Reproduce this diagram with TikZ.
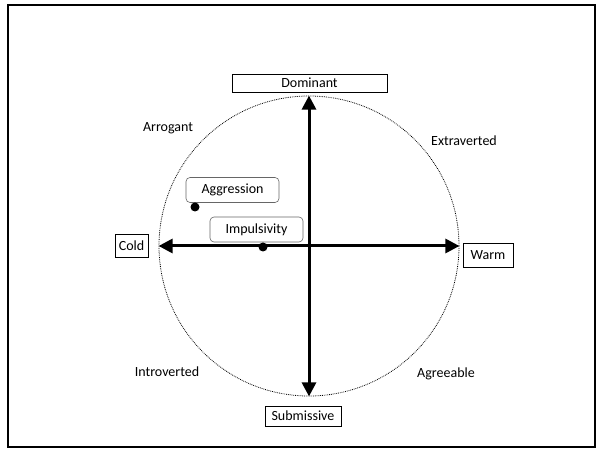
\documentclass[tikz,border=0pt]{standalone}
\usepackage{fontspec}
\setmainfont{Carlito}
\usetikzlibrary{arrows.meta}
\begin{document}
\begin{tikzpicture}[x=1pt,y=-1pt,>={Triangle[length=14pt,width=14pt]}]
            \tikzstyle{every node} = [font=\fontsize{14}{16}\selectfont,inner sep=0pt];
            \tikzstyle{pole} = [draw=black,line width=0.9pt,fill=white];
            \tikzstyle{trait} = [draw=black!60,rounded corners=4pt,line width=0.6pt,minimum width=93pt,minimum height=25pt];
            \tikzstyle{score} = [circle,fill=black,minimum size=9pt];
            \tikzstyle{axis} = [<->,line width=3pt];
            \useasboundingbox (0,0) rectangle (598,449);
            \draw[line width=1.8pt] (8,5) rectangle (595,447);
            \node[circle,draw,densely dotted,line width=0.8pt,minimum size=300pt] (wheel) at (309,246) {};
            \draw[axis] (wheel.north) -- (wheel.south);
            \draw[axis] (wheel.west) -- (wheel.east);
            \node[pole,minimum width=155pt,minimum height=18pt] (dom) at (309.5,83) {Dominant};
            \node[pole,minimum width=76pt,minimum height=20pt] (sub) at (303,416) {Submissive};
            \node[pole,minimum width=50pt,minimum height=24pt] (warm) at (488,255) {Warm};
            \node[pole,minimum width=33pt,minimum height=23pt] (cold) at (131.5,245.5) {Cold};
            \node (arr) at (168,128) {Arrogant};
            \node (ext) at (464,141) {Extraverted};
            \node (intro) at (167,372) {Introverted};
            \node (agr) at (446,374) {Agreeable};
            \node[trait] (aggr) at (232.5,190) {Aggression};
            \node[trait] (imp) at (256.5,229.5) {Impulsivity};
            \node[score] (aggdot) at (195,207) {};
            \node[score] (impdot) at (263,247) {};
        \end{tikzpicture}
\end{document}
